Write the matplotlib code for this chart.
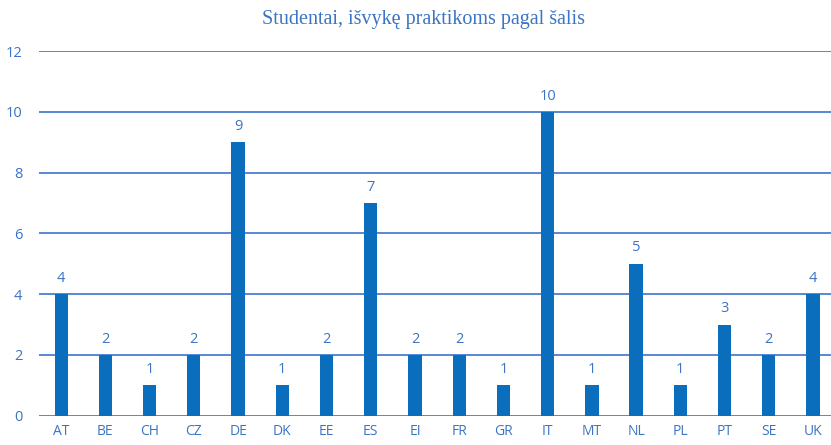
import matplotlib
matplotlib.use("Agg")
import matplotlib.pyplot as plt

countries = ["AT", "BE", "CH", "CZ", "DE", "DK", "EE", "ES", "EI", "FR",
             "GR", "IT", "MT", "NL", "PL", "PT", "SE", "UK"]
students = [4, 2, 1, 2, 9, 1, 2, 7, 2, 2, 1, 10, 1, 5, 1, 3, 2, 4]
yticks = [0, 2, 4, 6, 8, 10, 12]
title = "Studentai, išvykę praktikoms pagal šalis"

bar_color = "#0A6EBD"
grid_color = "#4A7FD0"
text_color = "#3A74C4"

fig = plt.figure(figsize=(8.31, 4.45), dpi=100)
ax = fig.add_axes([0.047, 0.066, 0.958, 0.819])
x = list(range(len(countries)))
bars = ax.bar(x, students, width=0.3, color=bar_color, zorder=3)
ax.set_xlim(-0.5, len(countries) - 0.5)
ax.set_ylim(0, 12)
ax.set_yticks(yticks)
ax.set_xticks(x)
ax.set_xticklabels(countries)
for yv in yticks:
    ax.axhline(yv, color=grid_color, lw=1.3, zorder=1)
for s in ax.spines.values():
    s.set_visible(False)
ax.tick_params(axis="both", length=0, colors=text_color, labelsize=10.5)
ax.tick_params(axis="x", pad=6, labelsize=10)
ax.tick_params(axis="y", pad=12)
for lab in ax.get_xticklabels() + ax.get_yticklabels():
    lab.set_fontfamily("Open Sans")
for xi, v in zip(x, students):
    ax.annotate(str(v), (xi, v), xytext=(0, 6), textcoords="offset points",
                ha="center", va="bottom", color=text_color, fontsize=10.5,
                fontfamily="Open Sans")
fig.text(0.51, 0.957, title, ha="center", va="center", color=text_color,
         fontsize=14.5, fontfamily="Liberation Serif")
fig.savefig("out.png", dpi=100)
